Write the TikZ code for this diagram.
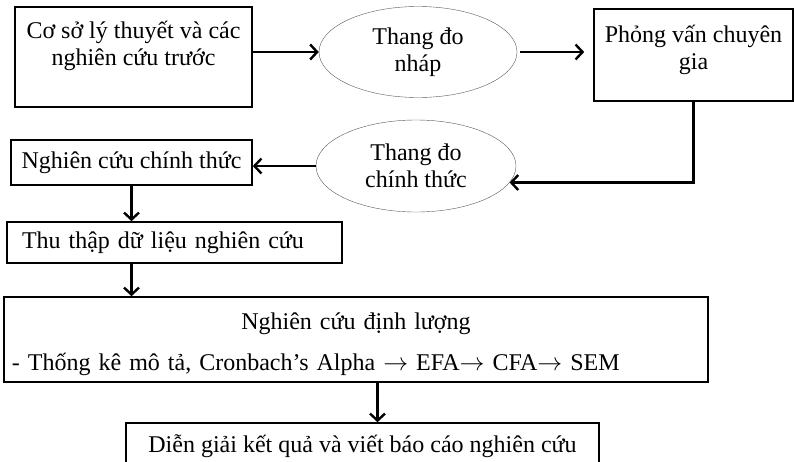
\documentclass[tikz,border=0pt]{standalone}
\usepackage{fontspec}
\setmainfont{Liberation Serif}
\usetikzlibrary{shapes.geometric, arrows.meta, positioning}

\begin{document}
\begin{tikzpicture}[x=1pt, y=-1pt, >={Straight Barb[length=7pt,width=15pt]},
    font=\fontsize{24}{27}\selectfont,
    box/.style={draw, line width=1.6pt, rectangle, align=center, inner sep=4pt},
    oval/.style={draw=black!65, thin, ellipse, align=center, inner sep=0pt},
    arr/.style={->, line width=2.4pt}]
      \useasboundingbox (0,0) rectangle (794,461);
      \node[box, minimum width=237pt, minimum height=100pt] (csl) at (133.5,57) {Cơ sở lý thuyết và các\\nghiên cứu trước\\\mbox{}};
      \node[oval, minimum width=198pt, minimum height=91pt] (tdn) at (418,52) {Thang đo\\nháp};
      \node[box, minimum width=199pt, minimum height=92pt] (pv) at (693.5,55) {\rule{0pt}{28pt}Phỏng vấn chuyên\\gia\\\mbox{}};
      \node[oval, minimum width=200pt, minimum height=92pt] (tdc) at (416,166) {Thang đo\\chính thức};
      \node[box, minimum width=241pt, minimum height=45pt] (ncct) at (131.5,162.5) {Nghiên cứu chính thức};
      \node[box, minimum height=41pt, text width=305pt, inner xsep=15pt, align=left] (ttdl) at (174.5,242.5) {Thu thập dữ liệu nghiên cứu};
      \node[box, minimum height=85pt, text width=688pt, inner xsep=8pt, align=left] (ncdl) at (356,339.5)
            {{\centering\rule{0pt}{26pt}Nghiên cứu định lượng\par}\vspace{14pt}- Thống kê mô tả, Cronbach’s Alpha $\rightarrow$ EFA$\rightarrow$ CFA$\rightarrow$ SEM};
      \node[box, minimum width=473pt, minimum height=46pt] (dg) at (362.5,446) {Diễn giải kết quả và viết báo cáo nghiên cứu};

      \path (csl.east |- tdn.west) edge[arr] (tdn.west)
            (tdn.east) edge[arr, shorten <=3pt, shorten >=9pt] (tdn.east -| pv.west)
            (tdc.west) edge[arr] (tdc.west -| ncct.east)
            (ncct.south) edge[arr] (ncct.south |- ttdl.north)
            (ncct.south |- ttdl.south) edge[arr] (ncct.south |- ncdl.north)
            ([xshift=15pt]dg.north |- ncdl.south) edge[arr] ([xshift=15pt]dg.north)
            ;
      \draw[arr] (pv.south) |- (tdc.-10);
\end{tikzpicture}
\end{document}
